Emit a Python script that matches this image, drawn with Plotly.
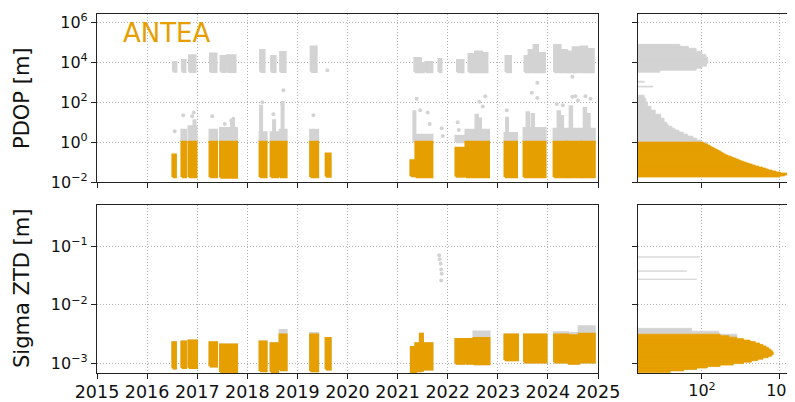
import plotly.graph_objects as go
from datetime import datetime

ORANGE = "#E69F00"
GRAY = "#D3D3D3"

# ---------------- data ----------------
# Top panel (PDOP): observation blocks with PDOP <= 1 (orange), fractional years
pdop_start = [2016.51, 2016.69, 2016.83, 2017.25, 2017.46, 2018.25, 2018.47, 2018.65, 2019.26, 2019.57,
              2021.26, 2021.36, 2022.16, 2022.36, 2023.14, 2023.52, 2024.12, 2024.39, 2024.66]
pdop_end = [2016.57, 2016.77, 2016.98, 2017.39, 2017.79, 2018.38, 2018.61, 2018.78, 2019.41, 2019.66,
            2021.36, 2021.69, 2022.33, 2022.82, 2023.38, 2023.95, 2024.39, 2024.66, 2024.93]
pdop_ok_low = [0.018, 0.018, 0.018, 0.018, 0.017, 0.018, 0.018, 0.018, 0.018, 0.019,
               0.02, 0.018, 0.019, 0.018, 0.018, 0.018, 0.018, 0.018, 0.018]
pdop_ok_high = [0.23, 1.0, 1.0, 1.0, 1.0, 1.0, 1.0, 1.0, 1.0, 0.26,
                0.12, 1.0, 0.5, 1.0, 1.0, 1.0, 1.0, 1.0, 1.0]

# gray PDOP > 1 : dense parts and narrow streaks
bad_start = [2016.69, 2016.83, 2017.25, 2017.46, 2018.25, 2018.47, 2018.65, 2019.26, 2021.36, 2022.16,
             2022.36, 2023.14, 2023.52, 2024.12,
             2016.93, 2017.68, 2018.26, 2018.52, 2018.69, 2021.32, 2022.56, 2022.62, 2023.17, 2023.58,
             2023.68, 2024.20, 2024.27, 2024.44, 2024.72, 2024.80]
bad_end = [2016.77, 2016.98, 2017.39, 2017.79, 2018.38, 2018.61, 2018.78, 2019.41, 2021.69, 2022.33,
           2022.82, 2023.38, 2023.95, 2024.93,
           2016.96, 2017.73, 2018.29, 2018.55, 2018.72, 2021.35, 2022.60, 2022.66, 2023.20, 2023.62,
           2023.72, 2024.24, 2024.30, 2024.48, 2024.76, 2024.83]
bad_high = [4.0, 6.0, 4.0, 5.0, 3.0, 3.0, 4.0, 4.0, 2.3, 2.0,
            4.0, 2.8, 5.0, 4.5,
            12, 12, 65, 12, 100, 34, 23, 15, 16, 30,
            25, 34, 20, 60, 50, 25]

# upper PDOP cluster (~1e4)
hi_start = [2016.52, 2016.70, 2016.84, 2017.26, 2017.47, 2017.60, 2018.26, 2018.48, 2018.66, 2019.27,
            2021.34, 2021.47, 2021.56, 2021.82, 2022.19, 2022.42, 2022.55, 2022.68, 2023.16,
            2023.54, 2023.62, 2023.72, 2023.80, 2024.13, 2024.25, 2024.38, 2024.50, 2024.66, 2024.78]
hi_end = [2016.58, 2016.76, 2016.96, 2017.38, 2017.56, 2017.76, 2018.34, 2018.56, 2018.76, 2019.38,
          2021.46, 2021.52, 2021.69, 2021.87, 2022.31, 2022.55, 2022.68, 2022.79, 2023.26,
          2023.62, 2023.72, 2023.80, 2023.94, 2024.25, 2024.38, 2024.50, 2024.63, 2024.78, 2024.91]
hi_low = [3500, 3400, 3400, 3400, 3400, 3400, 3400, 3400, 3400, 3400,
          3300, 3300, 3300, 3300, 3300, 3300, 3300, 3300, 3300,
          3300, 3300, 3300, 3300, 3300, 3300, 3300, 3300, 3300, 3300]
hi_high = [10000, 12500, 22000, 27000, 20000, 22000, 40000, 20000, 32000, 60000,
           16000, 9000, 10000, 14000, 12500, 25000, 34000, 28000, 20000,
           20000, 40000, 72000, 28000, 72000, 40000, 34000, 55000, 60000, 45000]

# isolated gray PDOP points
out_yr = [2016.55, 2016.72, 2016.90, 2016.93, 2017.30, 2017.55, 2017.68, 2017.72, 2018.30, 2018.52,
          2018.72, 2018.70, 2019.32, 2019.60, 2021.38, 2021.45, 2021.60, 2021.64, 2021.88, 2021.90,
          2022.20, 2022.22, 2022.63, 2022.75, 2022.70, 2023.18, 2023.25, 2023.79, 2023.79, 2023.68,
          2024.18, 2024.49, 2024.49, 2024.55, 2024.75, 2024.85, 2024.30, 2024.60]
out_val = [3.5, 22, 20, 30, 20, 8, 12, 15, 100, 25,
           400, 80, 22, 4000, 150, 40, 30, 8, 5, 2,
           10, 4, 105, 200, 60, 40, 3800, 950, 160, 300,
           80, 1900, 190, 200, 200, 150, 70, 120]

# Bottom panel (Sigma ZTD) blocks
ztd_start = [2016.51, 2016.69, 2016.83, 2017.25, 2017.46, 2018.25, 2018.47, 2018.65, 2019.26, 2019.57,
             2021.27, 2021.36, 2021.45, 2021.50, 2022.16, 2022.36, 2022.52, 2023.14, 2023.53, 2024.13, 2024.40, 2024.62]
ztd_end = [2016.57, 2016.77, 2016.99, 2017.39, 2017.79, 2018.38, 2018.61, 2018.78, 2019.41, 2019.66,
           2021.36, 2021.45, 2021.50, 2021.69, 2022.33, 2022.52, 2022.83, 2023.40, 2023.97, 2024.40, 2024.62, 2024.93]
ztd_low = [0.00083, 0.00085, 0.00085, 0.00090, 0.00072, 0.00075, 0.00073, 0.00078, 0.00075, 0.00080,
           0.00069, 0.00075, 0.00076, 0.00080, 0.00100, 0.00100, 0.00098, 0.00115, 0.00105, 0.00105, 0.00100, 0.00105]
ztd_high = [0.00229, 0.00235, 0.00245, 0.00229, 0.00210, 0.00235, 0.00220, 0.00310, 0.00310, 0.00270,
            0.00190, 0.00220, 0.00320, 0.00220, 0.00260, 0.00260, 0.00270, 0.00310, 0.00310, 0.00310, 0.00300, 0.00320]
ztd_bad_high = [0.00229, 0.00235, 0.00245, 0.00229, 0.00210, 0.00235, 0.00220, 0.00370, 0.00330, 0.00270,
                0.00190, 0.00220, 0.00320, 0.00220, 0.00260, 0.00260, 0.00350, 0.00310, 0.00310, 0.00340, 0.00330, 0.00430]
ztd_out_yr = [2021.83, 2021.84, 2021.86, 2021.87, 2021.88, 2021.87]
ztd_out_val = [0.070, 0.060, 0.050, 0.040, 0.034, 0.026]

# Histograms: bin edges (log10 of value) and counts
pdop_hist_ok_edges = [-1.75, -1.70, -1.65, -1.60, -1.55, -1.50, -1.45, -1.40, -1.35, -1.30, -1.25, -1.20,
                      -1.15, -1.10, -1.05, -1.00, -0.95, -0.90, -0.85, -0.80, -0.75, -0.70, -0.65, -0.60,
                      -0.55, -0.50, -0.45, -0.40, -0.35, -0.30, -0.25, -0.20, -0.15, -0.10, -0.05, 0.00]
pdop_hist_ok_counts = [100000, 150000, 190000, 210000, 105000, 70000, 50000, 36000, 28000, 21000, 15000,
                       11000, 8500, 6500, 5000, 3900, 3100, 2500, 2000, 1600, 1300, 1000, 830, 700,
                       600, 520, 450, 380, 320, 270, 225, 200, 160, 130, 110]
pdop_hist_bad_lo = [-0.1, 0.0, 0.1, 0.2, 0.3, 0.4, 0.5, 0.6, 0.7, 0.8, 0.9, 1.0, 1.2, 1.4, 1.6, 1.8, 2.0, 2.2,
                    2.76, 3.0, 3.50, 3.60, 3.70, 3.80, 3.95, 4.10, 4.25, 4.40, 4.55, 4.70, 4.80]
pdop_hist_bad_hi = [0.0, 0.1, 0.2, 0.3, 0.4, 0.5, 0.6, 0.7, 0.8, 0.9, 1.0, 1.2, 1.4, 1.6, 1.8, 2.0, 2.2, 2.35,
                    2.80, 3.05, 3.60, 3.70, 3.80, 3.95, 4.10, 4.25, 4.40, 4.55, 4.70, 4.80, 4.90]
pdop_hist_bad_counts = [170, 100, 63, 45, 28, 19, 13, 9, 7, 5, 4.4, 3.5, 2.6, 1.6, 1.1, 0.8, 0.7, 0.6,
                        1.3, 0.6, 2.4, 60, 100, 150, 170, 165, 140, 100, 60, 30, 14]

ztd_hist_ok_edges = [-3.150, -3.125, -3.100, -3.075, -3.050, -3.025, -3.000, -2.975, -2.950, -2.925,
                     -2.900, -2.875, -2.850, -2.825, -2.800, -2.775, -2.750, -2.725, -2.700, -2.675,
                     -2.650, -2.625, -2.600, -2.575, -2.550, -2.525, -2.500]
ztd_hist_ok_counts = [6, 20, 63, 160, 500, 1600, 4000, 7900, 14000, 22400, 35500, 48000, 55000,
                      55000, 50000, 43600, 36300, 29500, 22400, 16600, 11200, 7100, 4000, 2200, 1100, 500]
ztd_hist_bad_lo = [-2.55, -2.50, -2.45, -1.565, -1.425, -1.185]
ztd_hist_bad_hi = [-2.50, -2.45, -2.40, -1.555, -1.415, -1.175]
ztd_hist_bad_counts = [2200, 450, 40, 63, 26, 83]

year_ticks = [2015, 2016, 2017, 2018, 2019, 2020, 2021, 2022, 2023, 2024, 2025]
pdop_ticks = [1e-2, 1e0, 1e2, 1e4, 1e6]
pdop_ticktext = ["10<sup>\u22122</sup>", "10<sup>0</sup>", "10<sup>2</sup>", "10<sup>4</sup>", "10<sup>6</sup>"]
ztd_ticks = [1e-3, 1e-2, 1e-1]
ztd_ticktext = ["10<sup>\u22123</sup>", "10<sup>\u22122</sup>", "10<sup>\u22121</sup>"]
hist_ticks = [1e2, 1e5]
hist_ticktext = ["10<sup>2</sup>", "10<sup>5</sup>"]


# ---------------- helpers ----------------
def yr(y):
    year = int(y)
    frac = y - year
    a = datetime(year, 1, 1)
    b = datetime(year + 1, 1, 1)
    return a + (b - a) * frac


def rect_paths(x0s, x1s, y0s, y1s, xconv=lambda v: v):
    xs, ys = [], []
    for a, b, c, d in zip(x0s, x1s, y0s, y1s):
        xs += [xconv(a), xconv(b), xconv(b), xconv(a), xconv(a), None]
        ys += [c, c, d, d, c, None]
    return xs, ys


def block_trace(x0s, x1s, y0s, y1s, color, xa, ya, lw=2.5):
    xs, ys = rect_paths(x0s, x1s, y0s, y1s, yr)
    return go.Scatter(x=xs, y=ys, mode="lines", fill="toself", fillcolor=color,
                      line=dict(color=color, width=lw, shape="linear"), xaxis=xa, yaxis=ya,
                      hoverinfo="skip", showlegend=False)


def hist_trace(lo_exp, hi_exp, counts, color, xa, ya):
    base = 1e-2
    xs, ys = rect_paths([base] * len(counts), counts,
                        [10 ** v for v in lo_exp], [10 ** v for v in hi_exp])
    return go.Scatter(x=xs, y=ys, mode="lines", fill="toself", fillcolor=color,
                      line=dict(color=color, width=0.8), xaxis=xa, yaxis=ya,
                      hoverinfo="skip", showlegend=False)


fig = go.Figure()

# top main panel
fig.add_trace(block_trace(bad_start, bad_end, [1.0] * len(bad_start), bad_high, GRAY, "x", "y"))
fig.add_trace(block_trace(hi_start, hi_end, hi_low, hi_high, GRAY, "x", "y"))
fig.add_trace(go.Scatter(x=[yr(v) for v in out_yr], y=out_val, mode="markers",
                         marker=dict(color=GRAY, size=4), xaxis="x", yaxis="y",
                         hoverinfo="skip", showlegend=False))
fig.add_trace(block_trace(pdop_start, pdop_end, pdop_ok_low, pdop_ok_high, ORANGE, "x", "y"))

# top histogram
fig.add_trace(hist_trace(pdop_hist_bad_lo, pdop_hist_bad_hi, pdop_hist_bad_counts, GRAY, "x2", "y2"))
fig.add_trace(hist_trace(pdop_hist_ok_edges[:-1], pdop_hist_ok_edges[1:], pdop_hist_ok_counts, ORANGE, "x2", "y2"))

# bottom main panel
fig.add_trace(block_trace(ztd_start, ztd_end, ztd_low, ztd_bad_high, GRAY, "x3", "y3"))
fig.add_trace(go.Scatter(x=[yr(v) for v in ztd_out_yr], y=ztd_out_val, mode="markers",
                         marker=dict(color=GRAY, size=4), xaxis="x3", yaxis="y3",
                         hoverinfo="skip", showlegend=False))
fig.add_trace(block_trace(ztd_start, ztd_end, ztd_low, ztd_high, ORANGE, "x3", "y3"))

# bottom histogram
fig.add_trace(hist_trace(ztd_hist_bad_lo, ztd_hist_bad_hi, ztd_hist_bad_counts, GRAY, "x4", "y4"))
fig.add_trace(hist_trace(ztd_hist_ok_edges[:-1], ztd_hist_ok_edges[1:], ztd_hist_ok_counts, ORANGE, "x4", "y4"))

# the page body has an 8px margin: figure coords = page coords - 8
OFF = 8
W, H = 795 - OFF, 402 - OFF


def fx(p):
    return (p - OFF) / W


def fy(p):
    return 1 - (p - OFF) / H


main_dom = [fx(97), fx(598)]
hist_dom = [fx(638), 1.0]
top_dom = [fy(182), fy(14)]
bot_dom = [fy(373), fy(205)]

SPINE = "#222222"
GRID = "#b0b0b0"
TICKFONT = dict(family="DejaVu Sans", size=16, color="#111111")

common = dict(showline=True, linecolor=SPINE, linewidth=1.2, ticks="outside", ticklen=5,
              tickwidth=1.2, tickcolor=SPINE, showgrid=True, gridcolor=GRID, griddash="1px,2px",
              gridwidth=1, zeroline=False, automargin=False, tickfont=TICKFONT)

year_vals = [datetime(y, 1, 1) for y in year_ticks]
xr = [datetime(2015, 1, 1), datetime(2025, 1, 1)]

fig.update_layout(
    width=W, height=H, margin=dict(l=0, r=0, t=0, b=0),
    paper_bgcolor="white", plot_bgcolor="white",
    xaxis=dict(domain=main_dom, anchor="y", type="date", range=xr, tickmode="array",
               tickvals=year_vals, showticklabels=False, mirror=True, **common),
    yaxis=dict(domain=top_dom, anchor="x", type="log", range=[-2, 6.42], tickmode="array",
               tickvals=pdop_ticks, ticktext=pdop_ticktext, mirror=True, **common),
    xaxis2=dict(domain=hist_dom, anchor="y2", type="log", range=[-0.46, 5.58], tickmode="array",
                tickvals=hist_ticks, showticklabels=False, mirror=True, **common),
    yaxis2=dict(domain=top_dom, anchor="x2", type="log", range=[-2, 6.42], tickmode="array",
                tickvals=pdop_ticks, showticklabels=False, mirror=False, **common),
    xaxis3=dict(domain=main_dom, anchor="y3", type="date", range=xr, tickmode="array",
                tickvals=year_vals, ticktext=[str(y) for y in year_ticks], mirror=True,
                ticklabelstandoff=-2,
                **{**common, "tickfont": dict(family="DejaVu Sans", size=17.5, color="#111111")}),
    yaxis3=dict(domain=bot_dom, anchor="x3", type="log", range=[-3.16, -0.30], tickmode="array",
                tickvals=ztd_ticks, ticktext=ztd_ticktext, mirror=True, **common),
    xaxis4=dict(domain=hist_dom, anchor="y4", type="log", range=[-0.46, 5.58], tickmode="array",
                tickvals=hist_ticks, ticktext=hist_ticktext, mirror=True, ticklabelstandoff=-2, **common),
    yaxis4=dict(domain=bot_dom, anchor="x4", type="log", range=[-3.16, -0.30], tickmode="array",
                tickvals=ztd_ticks, showticklabels=False, mirror=False, **common),
    annotations=[
        dict(text="ANTEA", x=fx(121), y=fy(33), xref="paper", yref="paper", xanchor="left",
             yanchor="middle", showarrow=False, font=dict(family="DejaVu Sans", size=26, color=ORANGE)),
        dict(text="PDOP [m]", x=fx(22), y=fy(98), xref="paper", yref="paper", textangle=-90,
             xanchor="center", yanchor="middle", showarrow=False,
             font=dict(family="DejaVu Sans", size=21, color="#111111")),
        dict(text="Sigma ZTD [m]", x=fx(22), y=fy(289), xref="paper", yref="paper", textangle=-90,
             xanchor="center", yanchor="middle", showarrow=False,
             font=dict(family="DejaVu Sans", size=21, color="#111111")),
    ],
)

fig.write_html("out.html")
